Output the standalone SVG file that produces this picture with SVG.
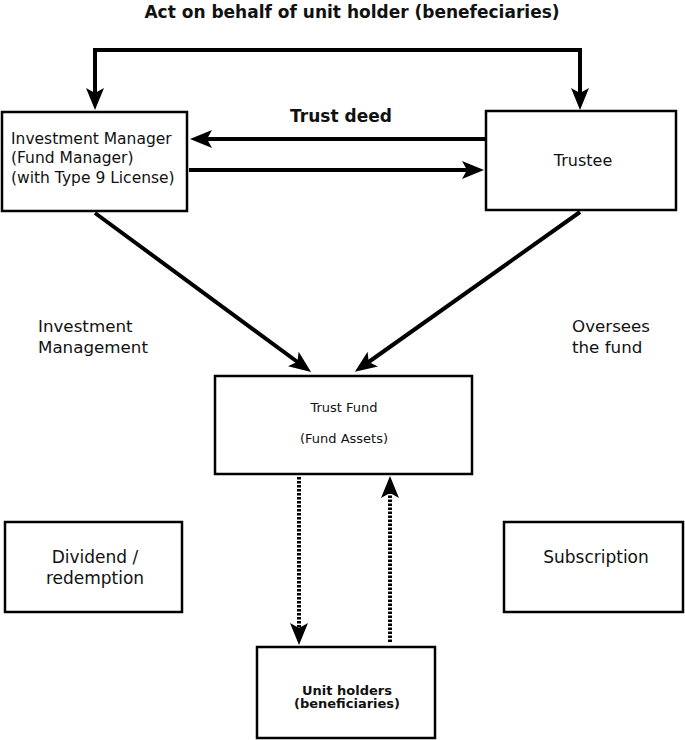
<svg xmlns="http://www.w3.org/2000/svg" width="685" height="740" viewBox="0 0 685 740">
<style>
.box{fill:#fff;stroke:#000;stroke-width:2.5}
.t{font-family:"DejaVu Sans",Verdana,sans-serif;font-size:17px;fill:#111}
.lbl{font-size:16.7px}
.im{font-size:15.5px}
.tr{font-size:16px}
.sm{font-size:13px}
.b{font-weight:bold}
.c{text-anchor:middle}
.ln{fill:none;stroke:#000;stroke-width:4}
.dot{fill:none;stroke:#000;stroke-width:4;stroke-dasharray:2.5 1.5}
</style>
<defs>
<marker id="ah" markerUnits="userSpaceOnUse" markerWidth="22" markerHeight="20" viewBox="0 0 22 20" refX="12" refY="10" orient="auto-start-reverse">
<path d="M0,1 L22,10 L0,19 L5,10 Z" fill="#000"/>
</marker>
</defs>
<rect width="685" height="740" fill="#fff"/>
<text class="t b c" x="352" y="18">Act on behalf of unit holder (benefeciaries)</text>
<g id="connectors">
<path class="ln" d="M95,100 V50 H580 V100" marker-start="url(#ah)" marker-end="url(#ah)"/>
<line class="ln" x1="486" y1="139" x2="200" y2="139" marker-end="url(#ah)"/>
<line class="ln" x1="189" y1="170" x2="474" y2="170" marker-end="url(#ah)"/>
<line class="ln" x1="95" y1="213" x2="303" y2="366" marker-end="url(#ah)"/>
<line class="ln" x1="580" y1="212" x2="363" y2="366" marker-end="url(#ah)"/>
<line class="dot" x1="299" y1="477" x2="299" y2="635" marker-end="url(#ah)"/>
<line class="dot" x1="390" y1="642" x2="390" y2="486" marker-end="url(#ah)"/>
<text class="t b c" x="341" y="122">Trust deed</text>
<text class="t lbl" x="38" y="332">Investment</text>
<text class="t lbl" x="38" y="353">Management</text>
<text class="t lbl" x="572" y="332">Oversees</text>
<text class="t lbl" x="572" y="353">the fund</text>
</g>
<g id="investment-manager">
<rect class="box" x="2" y="112" width="185" height="99"/>
<text class="t im" x="11" y="143.5">Investment Manager</text>
<text class="t im" x="11" y="163">(Fund Manager)</text>
<text class="t im" x="11" y="183">(with Type 9 License)</text>
</g>
<g id="trustee">
<rect class="box" x="486" y="111" width="190" height="99"/>
<text class="t tr c" x="583" y="165.5">Trustee</text>
</g>
<g id="trust-fund">
<rect class="box" x="215" y="376" width="257" height="98"/>
<text class="t sm c" x="344" y="411.5">Trust Fund</text>
<text class="t sm c" x="344" y="442.5">(Fund Assets)</text>
</g>
<g id="dividend">
<rect class="box" x="5" y="522" width="177" height="90"/>
<text class="t c" x="95" y="563">Dividend /</text>
<text class="t c" x="95" y="584">redemption</text>
</g>
<g id="subscription">
<rect class="box" x="504" y="522" width="179" height="90"/>
<text class="t c" x="596" y="563">Subscription</text>
</g>
<g id="unit-holders">
<rect class="box" x="257" y="647" width="178" height="91"/>
<text class="t sm b c" x="347" y="694.5">Unit holders</text>
<text class="t sm b c" x="347" y="708">(beneficiaries)</text>
</g>
</svg>
